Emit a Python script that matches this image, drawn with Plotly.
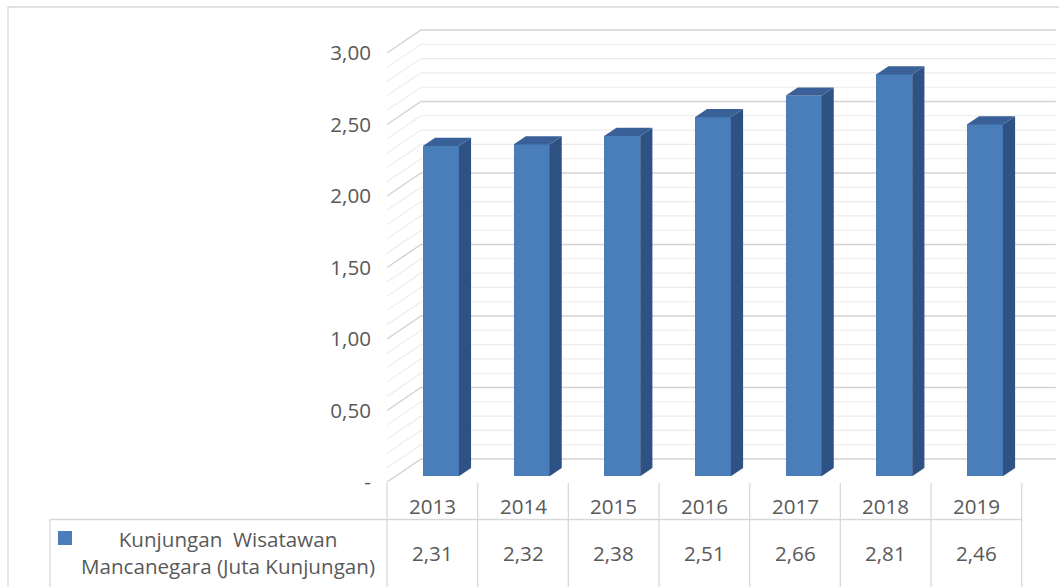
import plotly.graph_objects as go

# ---- data ----
years = ["2013", "2014", "2015", "2016", "2017", "2018", "2019"]
values = [2.31, 2.32, 2.38, 2.51, 2.66, 2.81, 2.46]
value_labels = ["2,31", "2,32", "2,38", "2,51", "2,66", "2,81", "2,46"]
y_tickvals = [0, 0.5, 1.0, 1.5, 2.0, 2.5, 3.0]
y_ticktext = ["-", "0,50", "1,00", "1,50", "2,00", "2,50", "3,00"]
series_name = "Kunjungan  Wisatawan<br>Mancanegara (Juta Kunjungan)"

# ---- geometry (figure pixels) ----
W, H = 1059, 587
PLOT_L = 387          # left edge of the plot area
PLOT_B = 482          # bottom edge of the plot area (value 0 on the front edge)
PX_CAT = 90.67        # pixels per category
PX_VAL = 143.0        # pixels per value unit
X0 = -0.5
X1 = X0 + (W - PLOT_L) / PX_CAT
Y0 = 0.0
Y1 = PLOT_B / PX_VAL

# oblique depth vector (front edge -> back wall) in data units
DEPTH_X = 34 / PX_CAT
DEPTH_Y = 23 / PX_VAL
BAR_FRONT = 0.25      # depth fraction where the bar front faces sit
BAR_DEPTH = 0.36      # depth fraction occupied by a bar
BAR_W = 36 / PX_CAT

FRONT = "#4A7EBB"
SIDE = "#2E5283"
TOP = "#3A6098"
TEXT = "#595959"
FONT = "'Open Sans', sans-serif"
FS = 20.6
N = len(years)
X_END = N - 0.5


def px_to_paper_x(px):
    return (px - PLOT_L) / (W - PLOT_L)


def px_to_paper_y(py):
    return (PLOT_B - py) / PLOT_B


def data_x_to_paper(x):
    return (x - X0) / (X1 - X0)


fig = go.Figure()
shapes = []

# ---- walls: gridlines every 0.1, major every 0.5 (drawn beneath the bars) ----
for major in (False, True):
    segs = []
    for k in range(31):
        if (k % 5 == 0) != major:
            continue
        v = k / 10
        segs.append(f"M{X0},{v} L{X0 + DEPTH_X},{v + DEPTH_Y} L{X_END + DEPTH_X},{v + DEPTH_Y}")
    shapes.append(dict(type="path", xref="x", yref="y", layer="below",
                       path=" ".join(segs),
                       line=dict(color="#D2D2D2" if major else "#EBEBEB",
                                 width=1.4 if major else 1.1)))

# ---- bars ----
fx = BAR_FRONT * DEPTH_X
fy = BAR_FRONT * DEPTH_Y
dx = BAR_DEPTH * DEPTH_X
dy = BAR_DEPTH * DEPTH_Y
xs = [i + fx for i in range(N)]

side_x, side_y, top_x, top_y = [], [], [], []
for xc, v in zip(xs, values):
    xl, xr = xc - BAR_W / 2, xc + BAR_W / 2
    b, t = fy, fy + v
    side_x += [xr, xr + dx, xr + dx, xr, xr, None]
    side_y += [b, b + dy, t + dy, t, b, None]
    top_x += [xl, xr, xr + dx, xl + dx, xl, None]
    top_y += [t, t, t + dy, t + dy, t, None]

fig.add_trace(go.Bar(
    x=xs, y=values, base=[fy] * N, width=[BAR_W] * N,
    marker=dict(color=FRONT, line=dict(width=0)),
    name=series_name.replace("<br>", " "), showlegend=False,
))
fig.add_trace(go.Scatter(x=side_x, y=side_y, mode="lines", fill="toself",
                         fillcolor=SIDE, line=dict(width=0), hoverinfo="skip",
                         showlegend=False))
fig.add_trace(go.Scatter(x=top_x, y=top_y, mode="lines", fill="toself",
                         fillcolor=TOP, line=dict(width=0), hoverinfo="skip",
                         showlegend=False))

# ---- data table ----
line_col = "#D9D9D9"
table_top, row_split, table_bot = 483, 519.5, 600
legend_left = 50
for i in range(N + 1):
    xp = data_x_to_paper(i - 0.5)
    shapes.append(dict(type="line", xref="paper", yref="paper",
                       x0=xp, x1=xp, y0=px_to_paper_y(table_top),
                       y1=px_to_paper_y(table_bot),
                       line=dict(color=line_col, width=1.3)))
shapes.append(dict(type="line", xref="paper", yref="paper",
                   x0=px_to_paper_x(legend_left), x1=data_x_to_paper(X_END),
                   y0=px_to_paper_y(row_split), y1=px_to_paper_y(row_split),
                   line=dict(color=line_col, width=1.3)))
shapes.append(dict(type="line", xref="paper", yref="paper",
                   x0=px_to_paper_x(legend_left), x1=px_to_paper_x(legend_left),
                   y0=px_to_paper_y(row_split), y1=px_to_paper_y(table_bot),
                   line=dict(color=line_col, width=1.3)))
# legend key
shapes.append(dict(type="rect", xref="paper", yref="paper",
                   x0=px_to_paper_x(58), x1=px_to_paper_x(72),
                   y0=px_to_paper_y(545), y1=px_to_paper_y(531),
                   fillcolor=FRONT, line=dict(width=0)))
# chart area border
shapes.append(dict(type="rect", xref="paper", yref="paper",
                   x0=px_to_paper_x(8), x1=px_to_paper_x(W + 20),
                   y0=px_to_paper_y(H + 20), y1=px_to_paper_y(7),
                   line=dict(color="#D9D9D9", width=1.3), fillcolor="rgba(0,0,0,0)"))

annotations = []
for i, (yr, lab) in enumerate(zip(years, value_labels)):
    annotations.append(dict(x=i, y=px_to_paper_y(506), xref="x", yref="paper",
                            xanchor="center", yanchor="middle",
                            text=yr, showarrow=False,
                            font=dict(size=FS, color=TEXT, family=FONT)))
    annotations.append(dict(x=i, y=px_to_paper_y(553), xref="x", yref="paper",
                            xanchor="center", yanchor="middle",
                            text=lab, showarrow=False,
                            font=dict(size=FS, color=TEXT, family=FONT)))
annotations.append(dict(x=px_to_paper_x(228), y=px_to_paper_y(552), xref="paper",
                        yref="paper", xanchor="center", yanchor="middle",
                        text=series_name, showarrow=False, align="center",
                        font=dict(size=FS, color=TEXT, family=FONT)))

fig.update_layout(
    width=W, height=H,
    margin=dict(l=PLOT_L, r=0, t=0, b=H - PLOT_B, pad=0),
    paper_bgcolor="white", plot_bgcolor="white",
    bargap=0,
    xaxis=dict(range=[X0, X1], visible=False, fixedrange=True),
    yaxis=dict(range=[Y0, Y1], tickvals=y_tickvals, ticktext=y_ticktext,
               showgrid=False, zeroline=False, showline=False, ticks="",
               ticklabelstandoff=15,
               tickfont=dict(size=FS, color=TEXT, family=FONT), fixedrange=True),
    shapes=shapes,
    annotations=annotations,
    showlegend=False,
)

fig.write_html("out.html")
